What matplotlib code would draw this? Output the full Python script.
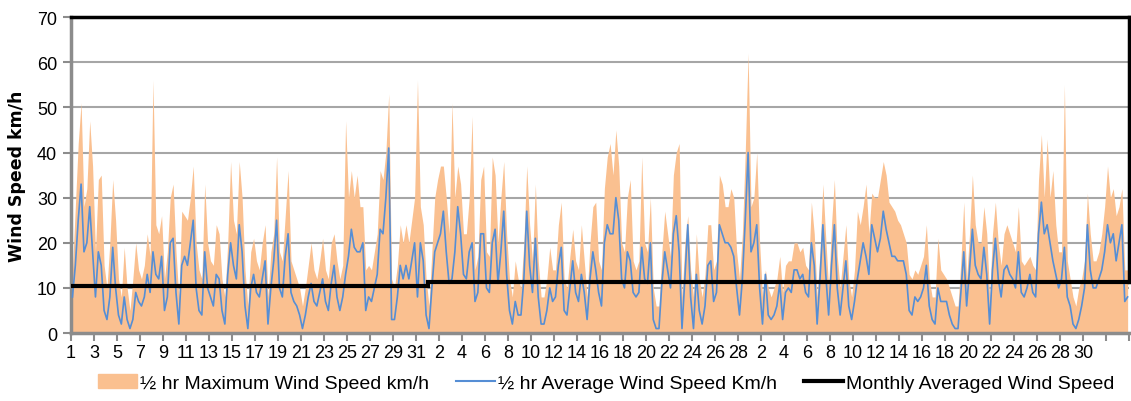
import numpy as np
import matplotlib.pyplot as plt
from matplotlib.patches import Patch
from matplotlib.lines import Line2D

plt.rcParams['font.family'] = ['Liberation Sans', 'DejaVu Sans']

avg_jan = [8, 15, 25, 33, 18, 20, 28, 18, 8, 18, 15, 5, 3, 8, 19, 10, 4, 2, 8, 3,
           1, 3, 9, 7, 6, 8, 13, 9, 18, 13, 12, 17, 5, 8, 20, 21, 9, 2, 15, 17,
           15, 20, 25, 10, 5, 4, 18, 10, 8, 6, 13, 12, 5, 2, 13, 20, 15, 12, 24, 18,
           6, 1, 10, 13, 9, 8, 12, 16, 2, 10, 16, 25, 10, 8, 17, 22, 9, 7, 6, 4,
           1, 4, 8, 11, 7, 6, 9, 12, 7, 5, 11, 15, 8, 5, 8, 13, 17, 23, 19, 18,
           18, 20, 5, 8, 7, 10, 13, 23, 22, 30, 41, 3, 3, 8, 15, 12, 15, 12, 16, 20,
           8, 20, 16, 4]
max_jan = [14, 28, 42, 51, 28, 32, 47, 37, 18, 34, 35, 15, 10, 20, 34, 25, 12, 8, 19, 10,
           5, 12, 20, 14, 12, 15, 22, 17, 56, 24, 22, 26, 12, 18, 30, 33, 18, 8, 27, 26,
           25, 30, 37, 20, 14, 12, 33, 20, 16, 15, 24, 22, 12, 8, 20, 38, 25, 22, 38, 30,
           14, 6, 18, 21, 16, 14, 20, 24, 8, 18, 22, 39, 18, 16, 26, 36, 16, 14, 12, 10,
           6, 10, 15, 20, 14, 12, 16, 21, 14, 12, 20, 22, 16, 12, 15, 47, 30, 36, 30, 35,
           28, 28, 14, 15, 14, 18, 22, 36, 34, 40, 53, 12, 10, 15, 24, 20, 24, 20, 25, 30,
           56, 28, 24, 12]
avg_feb = [1, 10, 18, 20, 22, 27, 18, 11, 12, 18, 28, 22, 13, 12, 18, 20, 7, 9, 22, 22,
           10, 9, 20, 23, 11, 18, 27, 13, 5, 2, 7, 4, 4, 12, 27, 15, 9, 21, 8, 2,
           2, 5, 10, 7, 8, 15, 19, 5, 4, 10, 16, 9, 7, 13, 9, 3, 12, 18, 14, 9,
           6, 20, 24, 22, 22, 30, 25, 12, 10, 18, 16, 9, 8, 9, 19, 12, 11, 20, 3, 1,
           1, 11, 18, 14, 10, 22, 26, 18, 1, 12, 24, 8, 1, 13, 5, 2, 6, 15, 16, 7,
           9, 24, 22, 20, 20, 19, 17, 10, 4, 12, 25, 40]
max_feb = [6, 18, 30, 34, 37, 37, 30, 22, 51, 30, 37, 33, 22, 22, 30, 48, 14, 17, 34, 37,
           18, 17, 39, 35, 20, 30, 38, 22, 12, 8, 16, 12, 10, 20, 37, 24, 16, 33, 16, 8,
           8, 12, 19, 14, 14, 24, 29, 12, 10, 17, 23, 16, 14, 24, 16, 8, 20, 28, 29, 16,
           14, 32, 39, 42, 35, 45, 37, 20, 18, 30, 34, 16, 14, 16, 39, 20, 18, 30, 10, 6,
           6, 18, 27, 22, 17, 35, 40, 42, 8, 20, 26, 14, 8, 22, 12, 8, 13, 24, 24, 14,
           16, 35, 33, 28, 28, 32, 30, 18, 12, 22, 40, 62]
avg_mar = [18, 20, 24, 10, 2, 13, 4, 3, 4, 6, 11, 3, 9, 10, 9, 14, 14, 12, 13, 9,
           8, 20, 15, 2, 12, 24, 13, 4, 15, 24, 10, 4, 10, 16, 6, 3, 7, 12, 16, 20,
           17, 13, 24, 21, 18, 21, 27, 23, 20, 17, 17, 16, 16, 16, 13, 5, 4, 8, 7, 8,
           10, 15, 6, 3, 2, 10, 7, 7, 7, 4, 2, 1, 1, 9, 18, 6, 14, 23, 15, 13,
           12, 19, 13, 2, 14, 21, 12, 8, 14, 15, 13, 12, 10, 18, 9, 8, 10, 13, 9, 8,
           22, 29, 22, 24, 20, 16, 13, 10, 12, 19, 8, 6, 2, 1, 3, 6, 10, 24, 14, 10,
           10, 12, 14, 18, 24, 20, 22, 16, 20, 24, 7, 8]
max_mar = [28, 30, 40, 20, 8, 14, 10, 8, 10, 12, 17, 9, 15, 16, 16, 20, 20, 18, 19, 15,
           14, 29, 22, 8, 18, 33, 21, 10, 24, 34, 17, 10, 17, 24, 12, 8, 14, 27, 24, 28,
           33, 22, 31, 30, 30, 34, 38, 35, 29, 28, 27, 25, 24, 22, 20, 13, 12, 14, 13, 15,
           17, 24, 12, 8, 8, 21, 14, 13, 12, 10, 8, 6, 6, 16, 29, 12, 22, 35, 24, 20,
           20, 28, 22, 8, 22, 29, 20, 15, 22, 24, 22, 20, 18, 28, 16, 15, 16, 17, 15, 14,
           34, 44, 30, 43, 30, 36, 24, 18, 18, 55, 16, 12, 8, 6, 10, 12, 16, 31, 22, 16,
           16, 18, 22, 28, 37, 30, 32, 26, 28, 32, 14, 14]

month_days = [31, 28, 31]
month_avg = [10.5, 11.3, 11.3]

avg = np.array(avg_jan + avg_feb + avg_mar, dtype=float)
mx = np.array(max_jan + max_feb + max_mar, dtype=float)
t = (np.arange(len(avg)) + 0.5) / 4.0   # in days from Jan 1
n_days = len(avg) / 4.0

# day labels: 1,3,..31 | 2,4,..28 | 2,4,..30
day_labels = [str(d) for m in month_days for d in range(1, m + 1)]

fig = plt.figure(figsize=(11.31, 4.02), dpi=100)
ax = fig.add_axes([0.0628, 0.169, 0.9355, 0.786])

orange = '#FAC090'
blue = '#558ED5'
grid_c = '#A6A6A6'

ax.fill_between(t, mx, 0, color=orange, lw=0, zorder=2)
ax.plot(t, avg, color=blue, lw=1.2, zorder=3)

edges = np.concatenate([[0], np.cumsum(month_days)]).astype(float)
edges[-1] = n_days
ax.stairs(month_avg, edges, baseline=None, color='black', lw=3, zorder=4)

ax.set_xlim(0, n_days)
ax.set_ylim(0, 70)
ax.set_yticks(range(0, 71, 10))
ticks = np.arange(0, n_days + 0.01, 2)
ax.set_xticks(ticks)
ax.set_xticklabels([day_labels[int(i)] if int(i) < 89 else '' for i in ticks])

ax.grid(axis='y', color=grid_c, lw=1.5, zorder=1)
ax.set_axisbelow(True)

for s in ('left', 'bottom'):
    ax.spines[s].set_color('#8C8C8C')
    ax.spines[s].set_linewidth(2.5)
ax.spines['top'].set_color('black')
ax.spines['top'].set_linewidth(2.5)
ax.spines['right'].set_color('black')
ax.spines['right'].set_linewidth(2.5)
ax.spines['right'].set_bounds(month_avg[-1], 70)

ax.tick_params(axis='both', colors='#8C8C8C', labelcolor='black', labelsize=13,
               length=6, width=1.5, direction='out')
ax.tick_params(axis='y', pad=4)
ax.tick_params(axis='x', pad=2)

ax.set_ylabel('Wind Speed km/h', family='DejaVu Sans', fontweight='bold',
              fontsize=12.5, labelpad=8)

handles = [Patch(color=orange),
           Line2D([], [], color=blue, lw=1.5),
           Line2D([], [], color='black', lw=3)]
labels = ['½ hr Maximum Wind Speed km/h',
          '½ hr Average Wind Speed Km/h',
          'Monthly Averaged Wind Speed']
fig.legend(handles, labels, loc='center', bbox_to_anchor=(0.536, 0.045), ncol=3,
           frameon=False, fontsize=14, handlelength=2.0, handletextpad=0.15,
           columnspacing=1.4)

fig.savefig('out.png', dpi=100)
